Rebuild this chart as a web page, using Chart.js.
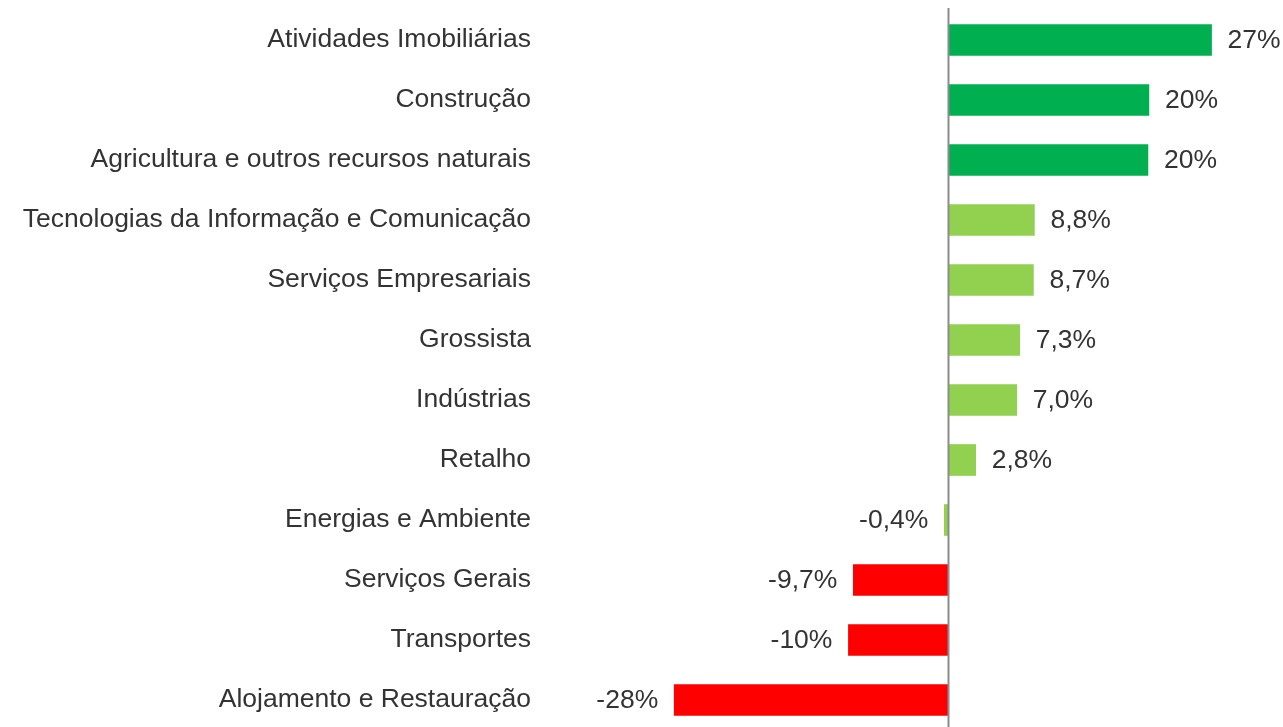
<!DOCTYPE html>
<html lang="pt">
  <head>
    <meta charset="UTF-8" />
    <title>Variação por setor</title>
    <script src="https://cdn.jsdelivr.net/npm/chart.js"></script>
    <style>
      body {
        margin: 0;
        background: #ffffff;
        overflow: hidden;
      }
      #wrap {
        width: 1283px;
        height: 730px;
      }
    </style>
  </head>
  <body>
    <div id="wrap"><canvas id="myChart"></canvas></div>
    <script>
      // sectors, top to bottom
      const sectors = [
        "Atividades Imobiliárias",
        "Construção",
        "Agricultura e outros recursos naturais",
        "Tecnologias da Informação e Comunicação",
        "Serviços Empresariais",
        "Grossista",
        "Indústrias",
        "Retalho",
        "Energias e Ambiente",
        "Serviços Gerais",
        "Transportes",
        "Alojamento e Restauração",
      ];
      // % change
      const changes = [26.9, 20.5, 20.4, 8.8, 8.7, 7.3, 7.0, 2.8, -0.4, -9.7, -10.2, -28.0];
      // labels as printed next to the bars
      const changeLabels = ["27%", "20%", "20%", "8,8%", "8,7%", "7,3%", "7,0%", "2,8%", "-0,4%", "-9,7%", "-10%", "-28%"];
      const barColors = [
        "#00B050", "#00B050", "#00B050",
        "#92D050", "#92D050", "#92D050", "#92D050", "#92D050", "#92D050",
        "#FF0000", "#FF0000", "#FF0000",
      ];

      const textColor = "#333333";
      const fontFamily = "'Liberation Sans', Arial, sans-serif";
      const fontSize = 26.5;

      // draws the value text beside each bar
      const valueLabels = {
        id: "valueLabels",
        afterDatasetsDraw(chart) {
          const ctx = chart.ctx;
          const meta = chart.getDatasetMeta(0);
          ctx.save();
          ctx.font = fontSize + "px " + fontFamily;
          ctx.fillStyle = textColor;
          ctx.textBaseline = "middle";
          meta.data.forEach(function (bar, i) {
            if (changes[i] >= 0) {
              ctx.textAlign = "left";
              ctx.fillText(changeLabels[i], bar.x + 16, bar.y + 1);
            } else {
              ctx.textAlign = "right";
              ctx.fillText(changeLabels[i], bar.x - 16, bar.y + 1);
            }
          });
          ctx.restore();
        },
      };

      // vertical line at zero
      const zeroLine = {
        id: "zeroLine",
        afterDatasetsDraw(chart) {
          const ctx = chart.ctx;
          const x = Math.round(chart.scales.x.getPixelForValue(0)) + 0.5;
          ctx.save();
          ctx.strokeStyle = "#8c8c8c";
          ctx.lineWidth = 2;
          ctx.beginPath();
          ctx.moveTo(x, 8);
          ctx.lineTo(x, chart.height);
          ctx.stroke();
          ctx.restore();
        },
      };

      const ctx = document.getElementById("myChart").getContext("2d");
      const myChart = new Chart(ctx, {
        type: "bar",
        data: {
          labels: sectors,
          datasets: [
            {
              data: changes,
              backgroundColor: barColors,
              borderWidth: 0,
              barThickness: 31,
            },
          ],
        },
        options: {
          indexAxis: "y",
          responsive: true,
          maintainAspectRatio: false,
          animation: false,
          layout: {
            padding: { top: 10, right: 0, bottom: 0, left: 0 },
          },
          plugins: {
            legend: { display: false },
            tooltip: { enabled: false },
          },
          scales: {
            x: {
              display: false,
              min: -41.2,
              max: 34.2,
            },
            y: {
              grid: { display: false },
              border: { display: false },
              ticks: {
                color: textColor,
                padding: 6,
                font: { family: fontFamily, size: fontSize },
              },
              afterFit(scale) {
                scale.width = 545;
                scale.paddingTop = 0;
                scale.paddingBottom = 0;
              },
            },
          },
        },
        plugins: [valueLabels, zeroLine],
      });
    </script>
  </body>
</html>
